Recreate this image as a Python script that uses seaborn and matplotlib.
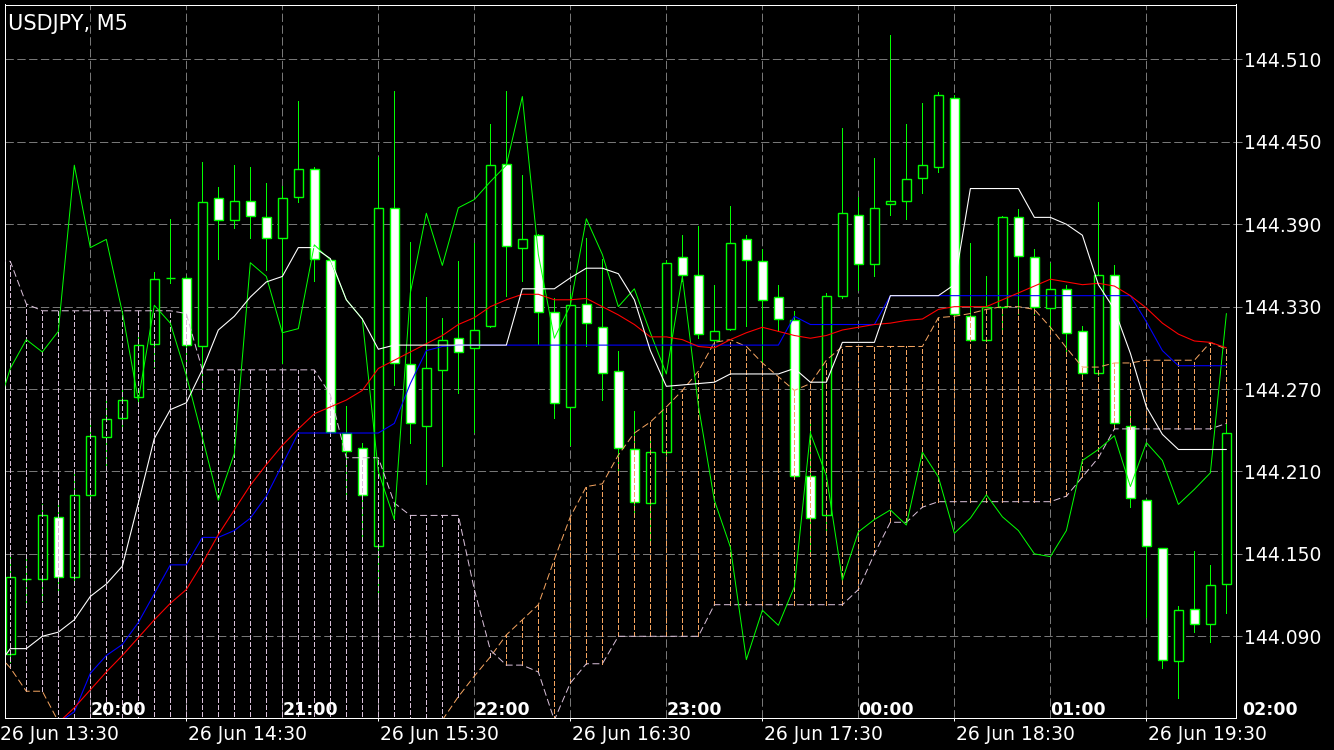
import numpy as np
import pandas as pd
import matplotlib
matplotlib.use("Agg")
import matplotlib.pyplot as plt
import seaborn as sns
from matplotlib.transforms import blended_transform_factory

# ---------------- data ----------------
symbol_title = "USDJPY, M5"

bar_index = list(range(1, 78))
open_ = [144.077, 144.132, 144.132, 144.177, 144.133, 144.193, 144.235, 144.249, 144.264, 144.303,
         144.351, 144.351, 144.301, 144.409, 144.393, 144.407, 144.395, 144.380, 144.410, 144.430,
         144.364, 144.238, 144.227, 144.156, 144.402, 144.288, 144.243, 144.284, 144.307, 144.300,
         144.316, 144.434, 144.373, 144.382, 144.326, 144.257, 144.332, 144.315, 144.283, 144.226,
         144.187, 144.224, 144.366, 144.353, 144.306, 144.314, 144.379, 144.363, 144.337, 144.320,
         144.207, 144.178, 144.338, 144.397, 144.361, 144.405, 144.407, 144.424, 144.432, 144.482,
         144.323, 144.306, 144.330, 144.395, 144.366, 144.329, 144.343, 144.312, 144.282, 144.353,
         144.243, 144.189, 144.154, 144.072, 144.110, 144.099, 144.128]
high = [144.148, 144.146, 144.186, 144.189, 144.209, 144.247, 144.262, 144.271, 144.309, 144.355,
        144.394, 144.352, 144.435, 144.417, 144.433, 144.432, 144.420, 144.418, 144.480, 144.432,
        144.365, 144.258, 144.231, 144.439, 144.487, 144.377, 144.337, 144.322, 144.363, 144.376,
        144.463, 144.487, 144.426, 144.383, 144.336, 144.340, 144.380, 144.365, 144.298, 144.254,
        144.234, 144.364, 144.382, 144.389, 144.346, 144.403, 144.382, 144.372, 144.346, 144.327,
        144.246, 144.340, 144.460, 144.410, 144.438, 144.528, 144.463, 144.478, 144.486, 144.484,
        144.376, 144.352, 144.396, 144.401, 144.372, 144.362, 144.346, 144.316, 144.406, 144.360,
        144.255, 144.190, 144.154, 144.112, 144.152, 144.142, 144.246]
low = [144.071, 144.111, 144.116, 144.124, 144.131, 144.189, 144.212, 144.240, 144.260, 144.286,
       144.347, 144.288, 144.267, 144.365, 144.387, 144.380, 144.357, 144.289, 144.406, 144.349,
       144.237, 144.192, 144.160, 144.119, 144.273, 144.231, 144.201, 144.214, 144.267, 144.239,
       144.315, 144.338, 144.349, 144.303, 144.249, 144.229, 144.301, 144.262, 144.211, 144.180,
       144.160, 144.222, 144.349, 144.307, 144.300, 144.313, 144.316, 144.289, 144.313, 144.206,
       144.151, 144.164, 144.336, 144.342, 144.352, 144.397, 144.394, 144.413, 144.428, 144.324,
       144.305, 144.305, 144.314, 144.325, 144.325, 144.314, 144.294, 144.281, 144.280, 144.241,
       144.184, 144.104, 144.067, 144.045, 144.093, 144.086, 144.107]
close = [144.133, 144.132, 144.178, 144.133, 144.193, 144.236, 144.248, 144.262, 144.302, 144.350,
         144.351, 144.302, 144.406, 144.393, 144.407, 144.396, 144.380, 144.409, 144.430, 144.365,
         144.239, 144.225, 144.193, 144.402, 144.289, 144.245, 144.285, 144.306, 144.297, 144.313,
         144.433, 144.374, 144.379, 144.326, 144.260, 144.331, 144.318, 144.282, 144.227, 144.188,
         144.224, 144.362, 144.353, 144.310, 144.312, 144.376, 144.364, 144.335, 144.321, 144.207,
         144.176, 144.338, 144.398, 144.361, 144.402, 144.407, 144.423, 144.433, 144.484, 144.325,
         144.306, 144.330, 144.395, 144.367, 144.330, 144.343, 144.311, 144.282, 144.353, 144.245,
         144.191, 144.156, 144.073, 144.109, 144.099, 144.127, 144.238]

line_index = list(range(0, 78))
tenkan_white = [144.065, 144.081, 144.081, 144.090, 144.093, 144.102, 144.119, 144.128, 144.141, 144.187,
                144.234, 144.255, 144.260, 144.284, 144.313, 144.323, 144.337, 144.348, 144.352, 144.373,
                144.373, 144.365, 144.335, 144.321, 144.299, 144.302, 144.302, 144.302, 144.302, 144.302,
                144.302, 144.302, 144.302, 144.343, 144.343, 144.343, 144.351, 144.358, 144.358, 144.354,
                144.335, 144.298, 144.272, 144.273, 144.274, 144.275, 144.281, 144.281, 144.281, 144.281,
                144.285, 144.275, 144.275, 144.304, 144.304, 144.304, 144.338, 144.338, 144.338, 144.338,
                144.346, 144.416, 144.416, 144.416, 144.416, 144.395, 144.395, 144.390, 144.382, 144.346,
                144.328, 144.296, 144.257, 144.237, 144.226, 144.226, 144.226, 144.226]
kijun_blue = ([None] * 4 +
              [144.027, 144.035, 144.063, 144.076, 144.084, 144.100,
               144.121, 144.142, 144.142, 144.162, 144.162, 144.167, 144.176, 144.192, 144.215, 144.238,
               144.238, 144.238, 144.238, 144.238, 144.238, 144.245, 144.274, 144.298, 144.301, 144.302] +
              [144.302] * 20 + [144.323] + [144.317] * 5 + [144.338] * 16 +
              [144.319, 144.298] + [144.287] * 4)
ma_red = ([None] * 4 +
          [144.027, 144.038, 144.051, 144.064, 144.076, 144.089,
           144.102, 144.114, 144.124, 144.143, 144.164, 144.182, 144.200, 144.215, 144.229, 144.241,
           144.252, 144.257, 144.262, 144.269, 144.285, 144.291, 144.297, 144.303, 144.309, 144.317,
           144.322, 144.330, 144.335, 144.339, 144.339, 144.335, 144.335, 144.336, 144.330, 144.324,
           144.317, 144.308, 144.308, 144.306, 144.301, 144.300, 144.306, 144.311, 144.315, 144.312,
           144.309, 144.307, 144.309, 144.313, 144.315, 144.317, 144.318, 144.320, 144.321, 144.328,
           144.330, 144.330, 144.330, 144.335, 144.340, 144.345, 144.350, 144.348, 144.346, 144.347,
           144.345, 144.338, 144.329, 144.318, 144.310, 144.305, 144.304, 144.300])
chikou_green = [144.248, 144.285, 144.306, 144.297, 144.312, 144.433, 144.373, 144.379, 144.326, 144.262,
                144.331, 144.318, 144.280, 144.235, 144.189, 144.223, 144.362, 144.352, 144.311, 144.314,
                144.375, 144.364, 144.335, 144.321, 144.210, 144.175, 144.340, 144.398, 144.360, 144.402,
                144.408, 144.421, 144.433, 144.483, 144.368, 144.307, 144.331, 144.394, 144.368, 144.330,
                144.343, 144.311, 144.281, 144.352, 144.258, 144.189, 144.155, 144.073, 144.109, 144.098,
                144.126, 144.238, 144.207, 144.131, 144.166, 144.175, 144.182, 144.171, 144.224, 144.206,
                144.165, 144.176, 144.193, 144.177, 144.167, 144.150, 144.148, 144.167, 144.218, 144.226,
                144.236, 144.199, 144.231, 144.218, 144.186, 144.197, 144.209, 144.325]
span_a = [144.080, 144.067, 144.050, 144.050, 144.028, 144.020, 144.015, 144.012, 144.010, 144.008,
          144.005, 144.005, 144.002, 144.000, 144.000, 143.998, 143.998, 143.998, 143.998, 143.998,
          144.000, 144.000, 144.000, 144.002, 144.005, 144.005, 144.008, 144.015, 144.029, 144.046,
          144.061, 144.075, 144.091, 144.102, 144.113, 144.146, 144.177, 144.199, 144.201, 144.222,
          144.238, 144.246, 144.257, 144.269, 144.283, 144.304, 144.306, 144.301, 144.289, 144.279,
          144.269, 144.274, 144.291, 144.301, 144.301, 144.301, 144.301, 144.301, 144.301, 144.322,
          144.323, 144.325, 144.328, 144.330, 144.330, 144.328, 144.315, 144.300, 144.286, 144.286,
          144.289, 144.289, 144.291, 144.291, 144.291, 144.291, 144.304, 144.299]
span_b = ([144.364, 144.363, 144.332] + [144.327] * 9 + [144.325] + [144.284] * 8 +
          [144.266] + [144.220] * 3 + [144.187] + [144.178] * 4 + [144.124, 144.080, 144.069, 144.069,
          144.064, 144.029, 144.056, 144.070, 144.070] + [144.090] * 6 + [144.113] * 9 +
          [144.124, 144.150, 144.173, 144.173, 144.184] + [144.188] * 8 + [144.192, 144.206, 144.220] +
          [144.241] * 7 + [144.245])

price_ticks = [144.090, 144.150, 144.210, 144.270, 144.330, 144.390, 144.450, 144.510]
date_label_pos = [0, 12, 24, 36, 48, 60, 72]
date_labels = ["26 Jun 13:30", "26 Jun 14:30", "26 Jun 15:30", "26 Jun 16:30",
               "26 Jun 17:30", "26 Jun 18:30", "26 Jun 19:30"]
hour_label_pos = [6, 18, 30, 42, 54, 66, 78]
hour_labels = ["20:00", "21:00", "22:00", "23:00", "00:00", "01:00", "02:00"]

# ---------------- style ----------------
sns.set_theme(style="dark")
plt.rcParams["font.family"] = ["DejaVu Sans"]
plt.rcParams["lines.scale_dashes"] = False
plt.rcParams["axes.facecolor"] = "black"
plt.rcParams["figure.facecolor"] = "black"

LIME = "#00ff00"
PX = 0.72  # one pixel in points at 100 dpi
X_LIM = (0.65, 77.6)
Y_LIM = (144.0305, 144.550)

fig = plt.figure(figsize=(13.34, 7.5), dpi=100)
ax = fig.add_axes([4.7 / 1334, 1 - 718 / 750, (1236 - 4.7) / 1334, (718 - 4.5) / 750])
ax.set_facecolor("black")

# ---------------- candles ----------------
df_c = pd.DataFrame({"k": bar_index, "open": open_, "high": high, "low": low, "close": close})
bull = df_c["close"] >= df_c["open"]
ax.vlines(df_c["k"], df_c["low"], df_c["high"], color=LIME, linewidth=PX,
          antialiased=False, zorder=2)
body_bottom = np.minimum(df_c["open"], df_c["close"])
body_height = (df_c["close"] - df_c["open"]).abs()
ax.bar(df_c["k"], body_height, bottom=body_bottom, width=0.53,
       color=np.where(bull, "black", "white"), edgecolor=LIME, linewidth=PX * 1.4, zorder=2.5)

# ---------------- cloud ----------------
df_l = pd.DataFrame({"k": line_index, "tenkan": tenkan_white, "kijun": kijun_blue, "ma": ma_red,
                     "chikou": chikou_green, "span_a": span_a, "span_b": span_b}).astype(float)
a = df_l["span_a"].values
b = df_l["span_b"].values
hatch_colors = np.where(a >= b, "#f4a460", "#d8bfd8")
ax.vlines(df_l["k"], np.minimum(a, b), np.maximum(a, b), colors=hatch_colors,
          linestyles=[(0, (3.2, 1.6))], linewidth=PX, antialiased=False, zorder=3)

sns.lineplot(data=df_l, x="k", y="span_a", ax=ax, color="#f4a460", linewidth=PX,
             linestyle=(0, (5, 2.5)), zorder=3.2)
sns.lineplot(data=df_l, x="k", y="span_b", ax=ax, color="#d8bfd8", linewidth=PX,
             linestyle=(0, (5, 2.5)), zorder=3.2)

# ---------------- indicator lines ----------------
sns.lineplot(data=df_l, x="k", y="chikou", ax=ax, color=LIME, linewidth=PX, zorder=4)
sns.lineplot(data=df_l, x="k", y="kijun", ax=ax, color="#0000ff", linewidth=PX * 1.1, zorder=4.1)
sns.lineplot(data=df_l, x="k", y="ma", ax=ax, color="#ff0000", linewidth=PX * 1.1, zorder=4.2)
sns.lineplot(data=df_l, x="k", y="tenkan", ax=ax, color="white", linewidth=PX * 1.1, zorder=4.3)

ax.set_xlabel("")
ax.set_ylabel("")

# ---------------- axes / grid ----------------
ax.set_xticks(date_label_pos)
ax.set_xticks([6, 18, 30, 42, 54, 66], minor=True)
ax.set_xticklabels([])
ax.grid(True, which="both", axis="x", color="#777777", linestyle=(0, (6, 2.5)), linewidth=PX)
ax.yaxis.tick_right()
ax.set_yticks(price_ticks)
ax.set_yticklabels([f"{p:.3f}" for p in price_ticks])
ax.grid(True, which="major", axis="y", color="#777777", linestyle=(0, (6, 2.5)), linewidth=PX)
ax.set_axisbelow(True)
ax.tick_params(axis="y", which="major", colors="#888888", labelcolor="white", labelsize=13.5,
               length=4, width=PX, pad=2, right=True, left=False)
ax.tick_params(axis="x", which="major", colors="white", length=2.5, width=PX, bottom=True)
ax.tick_params(axis="x", which="minor", length=0)
for s in ax.spines.values():
    s.set_color("white")
    s.set_linewidth(PX)

ax.set_xlim(*X_LIM)
ax.set_ylim(*Y_LIM)

# ---------------- texts ----------------
ax.text(0.0027, 0.9643, symbol_title, transform=ax.transAxes, color="white",
        fontsize=15, va="baseline", ha="left")

trans = blended_transform_factory(ax.transData, ax.transAxes)
for pos, lab in zip(date_label_pos, date_labels):
    xpos = 0.356 if pos == 0 else pos + 0.12
    ax.text(xpos, -0.0308, lab, transform=trans, color="white", fontsize=13.5,
            va="baseline", ha="left", clip_on=False)
for pos, lab in zip(hour_label_pos, hour_labels):
    ax.text(pos, 0.0042, lab, transform=trans, color="white", fontsize=12.5,
            fontweight="bold", va="baseline", ha="left", clip_on=False, zorder=6)

fig.savefig("out.png", dpi=100, facecolor="black")
